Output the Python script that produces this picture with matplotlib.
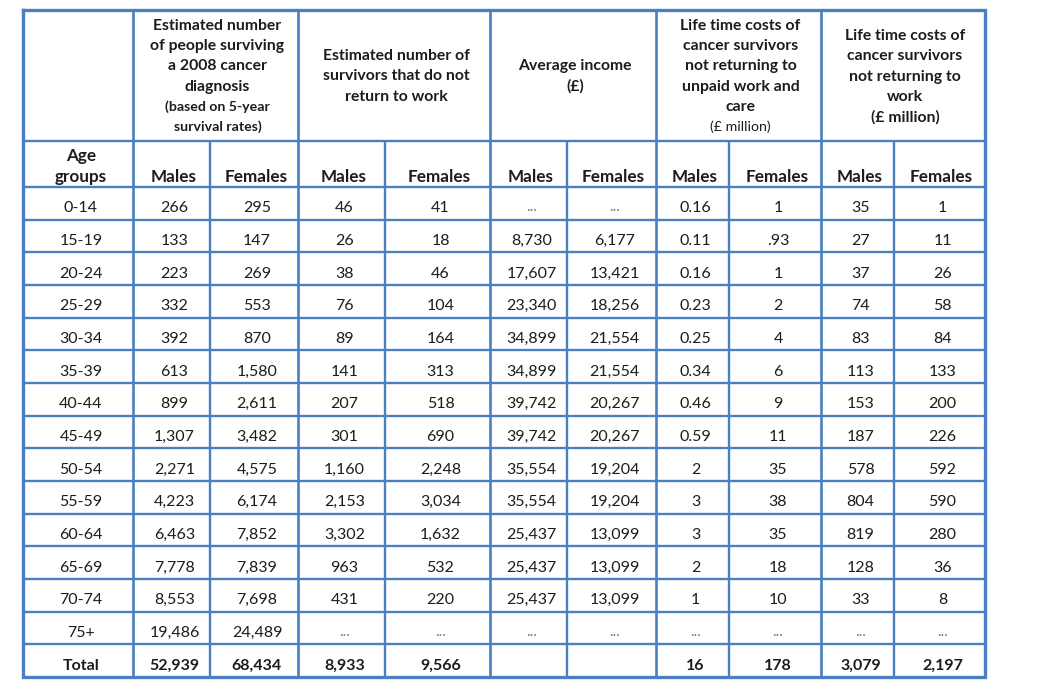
import matplotlib.pyplot as plt

plt.rcParams['font.family'] = ['Lato', 'DejaVu Sans']

# table content
age_groups = ['0-14', '15-19', '20-24', '25-29', '30-34', '35-39', '40-44', '45-49',
              '50-54', '55-59', '60-64', '65-69', '70-74', '75+', 'Total']

survivors_m = ['266', '133', '223', '332', '392', '613', '899', '1,307', '2,271', '4,223',
               '6,463', '7,778', '8,553', '19,486', '52,939']
survivors_f = ['295', '147', '269', '553', '870', '1,580', '2,611', '3,482', '4,575', '6,174',
               '7,852', '7,839', '7,698', '24,489', '68,434']
no_return_m = ['46', '26', '38', '76', '89', '141', '207', '301', '1,160', '2,153',
               '3,302', '963', '431', '...', '8,933']
no_return_f = ['41', '18', '46', '104', '164', '313', '518', '690', '2,248', '3,034',
               '1,632', '532', '220', '...', '9,566']
income_m = ['...', '8,730', '17,607', '23,340', '34,899', '34,899', '39,742', '39,742',
            '35,554', '35,554', '25,437', '25,437', '25,437', '...', '']
income_f = ['...', '6,177', '13,421', '18,256', '21,554', '21,554', '20,267', '20,267',
            '19,204', '19,204', '13,099', '13,099', '13,099', '...', '']
unpaid_m = ['0.16', '0.11', '0.16', '0.23', '0.25', '0.34', '0.46', '0.59', '2', '3',
            '3', '2', '1', '...', '16']
unpaid_f = ['1', '.93', '1', '2', '4', '6', '9', '11', '35', '38',
            '35', '18', '10', '...', '178']
work_m = ['35', '27', '37', '74', '83', '113', '153', '187', '578', '804',
          '819', '128', '33', '...', '3,079']
work_f = ['1', '11', '26', '58', '84', '133', '200', '226', '592', '590',
          '280', '36', '8', '...', '2,197']

group_titles = [
    ['Estimated number', 'of people surviving', 'a 2008 cancer', 'diagnosis'],
    ['Estimated number of', 'survivors that do not', 'return to work'],
    ['Average income', '(£)'],
    ['Life time costs of', 'cancer survivors', 'not returning to', 'unpaid work and', 'care'],
    ['Life time costs of', 'cancer survivors', 'not returning to', 'work'],
]
group_notes = [['(based on 5-year', 'survival rates)'], [], [], ['(£ million)'], ['(£ million)']]

columns = [survivors_m, survivors_f, no_return_m, no_return_f, income_m, income_f,
           unpaid_m, unpaid_f, work_m, work_f]

# layout (pixels)
col_edges = [23, 133, 210, 298, 385, 490, 567, 656, 729, 821, 894, 985]
group_edges = [133, 298, 490, 656, 821, 985]
y_top, y_head, y_sub = 10, 141, 187
row_h = (677 - y_sub) / len(age_groups)
line_col = '#4a7fc1'
text_col = '#1c1c1c'

fig = plt.figure(figsize=(10.41, 6.86), dpi=100)
ax = fig.add_axes([0, 0, 1, 1])
ax.set_xlim(0, 1041)
ax.set_ylim(686, 0)
ax.axis('off')

y_bottom = y_sub + row_h * len(age_groups)

# grid
row_lines = [y_sub + row_h * i for i in range(1, len(age_groups))]
ax.hlines([y_head, y_sub] + row_lines, col_edges[0], col_edges[-1], color=line_col, lw=1.7)
ax.vlines(group_edges[:-1], y_top, y_bottom, color=line_col, lw=1.9)
ax.vlines([col_edges[i] for i in (2, 4, 6, 8, 10)], y_head, y_bottom, color=line_col, lw=1.7)
ax.plot([col_edges[0], col_edges[-1], col_edges[-1], col_edges[0], col_edges[0]],
        [y_top, y_top, y_bottom, y_bottom, y_top], color=line_col, lw=2.4,
        solid_joinstyle='miter')

# group headers
line_gap = 20.2
for g, (title, note) in enumerate(zip(group_titles, group_notes)):
    cx = (group_edges[g] + group_edges[g + 1]) / 2 + 2
    lines = [(t, 11.3, 'bold') for t in title]
    if g == 0:
        lines += [(t, 10.2, 'bold') for t in note]
    elif g == 3:
        lines += [(t, 10.2, 'normal') for t in note]
    else:
        lines += [(t, 11.3, 'bold') for t in note]
    n = len(lines)
    y0 = (y_top + y_head) / 2 - (n - 1) * line_gap / 2 + 1
    for k, (t, fs, fw) in enumerate(lines):
        ax.text(cx, y0 + k * line_gap, t, ha='center', va='center', fontsize=fs,
                fontweight=fw, color=text_col)

# sub header row
ax.text(81, 156, 'Age', ha='center', va='center', fontsize=12.3, fontweight='bold', color=text_col)
ax.text(81, 177, 'groups', ha='center', va='center', fontsize=12.3, fontweight='bold', color=text_col)
for i in range(10):
    cx = (col_edges[i + 1] + col_edges[i + 2]) / 2 + 2
    ax.text(cx, 177, 'Males' if i % 2 == 0 else 'Females', ha='center', va='center',
            fontsize=12.3, fontweight='bold', color=text_col)

# body rows
for r, age in enumerate(age_groups):
    ty = y_sub + row_h * (r + 0.5) + 5
    bold = 'bold' if age == 'Total' else 'normal'
    ax.text(81, ty, age, ha='center', va='center', fontsize=11.5, fontweight=bold, color=text_col)
    for i, col in enumerate(columns):
        cx = (col_edges[i + 1] + col_edges[i + 2]) / 2 + 3
        val = col[r]
        if val == '...':
            ax.text(cx, ty - 1, '...', ha='center', va='center', fontsize=11,
                    color='#7a7a7a')
        else:
            ax.text(cx, ty, val, ha='center', va='center', fontsize=11.5,
                    fontweight=bold, color=text_col)

fig.savefig('out.png', dpi=100)
